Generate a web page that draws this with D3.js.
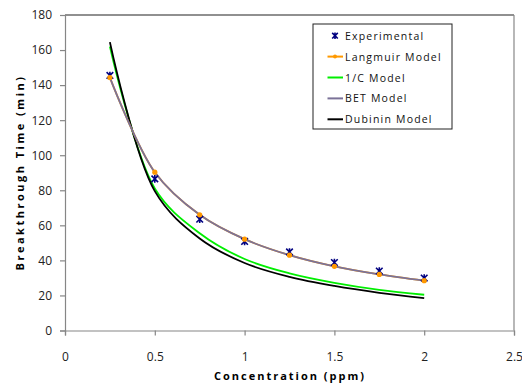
<!DOCTYPE html>
<html>
<head>
<meta charset="utf-8">
<script src="https://cdn.jsdelivr.net/npm/d3@7"></script>
<style>
  body { margin: 0; background: #fff; }
  text { font-family: "Open Sans", "DejaVu Sans", sans-serif; }
</style>
</head>
<body>
<svg id="chart" width="522" height="385"></svg>
<script>
// concentration (ppm)
var conc = [0.25, 0.5, 0.75, 1, 1.25, 1.5, 1.75, 2];
var experimental = [145.5, 86.5, 63.5, 50.8, 44.8, 38.8, 33.9, 29.9];
var langmuir = [144.3, 90.3, 66, 52.1, 43, 36.6, 32, 28.4];
var oneOverC = [162, 81, 55.5, 40.8, 32.6, 27.2, 23.2, 20.4];
var bet = [144.3, 90.3, 66, 52.1, 43, 36.6, 32, 28.4];
var dubinin = [164.5, 79.5, 52.5, 38.5, 30.6, 25.4, 21.5, 18.5];
var xTicks = [0, 0.5, 1, 1.5, 2, 2.5];
var yTicks = [0, 20, 40, 60, 80, 100, 120, 140, 160, 180];

var svg = d3.select("#chart");
var x = d3.scaleLinear().domain([0, 2.5]).range([65, 514]);
var y = d3.scaleLinear().domain([0, 180]).range([330.5, 15]);

// plot frame (top and right)
svg.append("line").attr("x1", 65).attr("x2", 514).attr("y1", 15).attr("y2", 15)
    .attr("stroke", "#222").attr("stroke-width", 1.2);
svg.append("line").attr("x1", 514).attr("x2", 514).attr("y1", 15).attr("y2", 330.5)
    .attr("stroke", "#888").attr("stroke-width", 1.2);

// axes
var xAxis = svg.append("g").attr("transform", "translate(0,330.5)")
    .call(d3.axisBottom(x).tickValues(xTicks).tickSize(5).tickPadding(17).tickFormat(d3.format("")));
var yAxis = svg.append("g").attr("transform", "translate(65,0)")
    .call(d3.axisLeft(y).tickValues(yTicks).tickSize(5).tickPadding(8));
[xAxis, yAxis].forEach(g => {
    g.select(".domain").attr("stroke", "#868686").attr("stroke-width", 1.2);
    g.selectAll(".tick line").attr("stroke", "#868686").attr("stroke-width", 1.2);
    g.selectAll(".tick text").attr("fill", "#222").style("font-size", "12px")
        .style("font-family", "'Open Sans', sans-serif");
});

// axis titles
svg.append("text").attr("x", 290).attr("y", 380).attr("text-anchor", "middle")
    .style("font-size", "11px").style("font-weight", "bold").style("letter-spacing", "2px")
    .text("Concentration (ppm)");
svg.append("text").attr("transform", "translate(24,172.5) rotate(-90)").attr("text-anchor", "middle")
    .style("font-size", "11px").style("font-weight", "bold").style("letter-spacing", "2.5px")
    .text("Breakthrough Time (min)");

var line = d3.line().x(d => x(d[0])).y(d => y(d[1])).curve(d3.curveCatmullRom.alpha(0.5));
function pts(vals) { return conc.map((c, i) => [c, vals[i]]); }

var series = [
    {name: "1/C Model", vals: oneOverC, color: "#00ee00"},
    {name: "Dubinin Model", vals: dubinin, color: "#000000"},
    {name: "Langmuir Model", vals: langmuir, color: "#ff9900"},
    {name: "BET Model", vals: bet, color: "#7b7298"}
];
series.forEach(s => {
    svg.append("path").datum(pts(s.vals)).attr("d", line)
        .attr("fill", "none").attr("stroke", s.color).attr("stroke-width", 1.8);
});

// experimental star markers (asterisk)
function star(g, cx, cy, s) {
    g.append("path")
        .attr("d", `M${cx - s},${cy - s}L${cx + s},${cy + s}M${cx - s},${cy + s}L${cx + s},${cy - s}M${cx},${cy - s - 0.5}L${cx},${cy + s + 0.5}`)
        .attr("stroke", "#000080").attr("stroke-width", 1.6).attr("fill", "none");
}
var expG = svg.append("g");
pts(experimental).forEach(d => star(expG, x(d[0]), y(d[1]), 3.3));

// langmuir markers
svg.append("g").selectAll("circle").data(pts(langmuir)).enter().append("circle")
    .attr("cx", d => x(d[0])).attr("cy", d => y(d[1])).attr("r", 2.6).attr("fill", "#ff9900");

// legend
var lg = svg.append("g");
lg.append("rect").attr("x", 313).attr("y", 24).attr("width", 139).attr("height", 105)
    .attr("fill", "#fff").attr("stroke", "#222").attr("stroke-width", 1);
var legendItems = [
    {name: "Experimental", color: "#000080", type: "star"},
    {name: "Langmuir Model", color: "#ff9900", type: "marker"},
    {name: "1/C Model", color: "#00ee00", type: "line"},
    {name: "BET Model", color: "#7b7298", type: "line"},
    {name: "Dubinin Model", color: "#000000", type: "line"}
];
legendItems.forEach((d, i) => {
    var cy = 35.7 + i * 20.9;
    if (d.type === "star") {
        star(lg, 335, cy, 2.8);
    } else {
        lg.append("line").attr("x1", 327.5).attr("x2", 343).attr("y1", cy).attr("y2", cy)
            .attr("stroke", d.color).attr("stroke-width", 2);
        if (d.type === "marker") lg.append("circle").attr("cx", 335).attr("cy", cy).attr("r", 2).attr("fill", d.color);
    }
    lg.append("text").attr("x", 345).attr("y", cy + 4).style("font-size", "10.5px")
        .style("letter-spacing", "1.2px").attr("fill", "#111").text(d.name);
});
</script>
</body>
</html>
